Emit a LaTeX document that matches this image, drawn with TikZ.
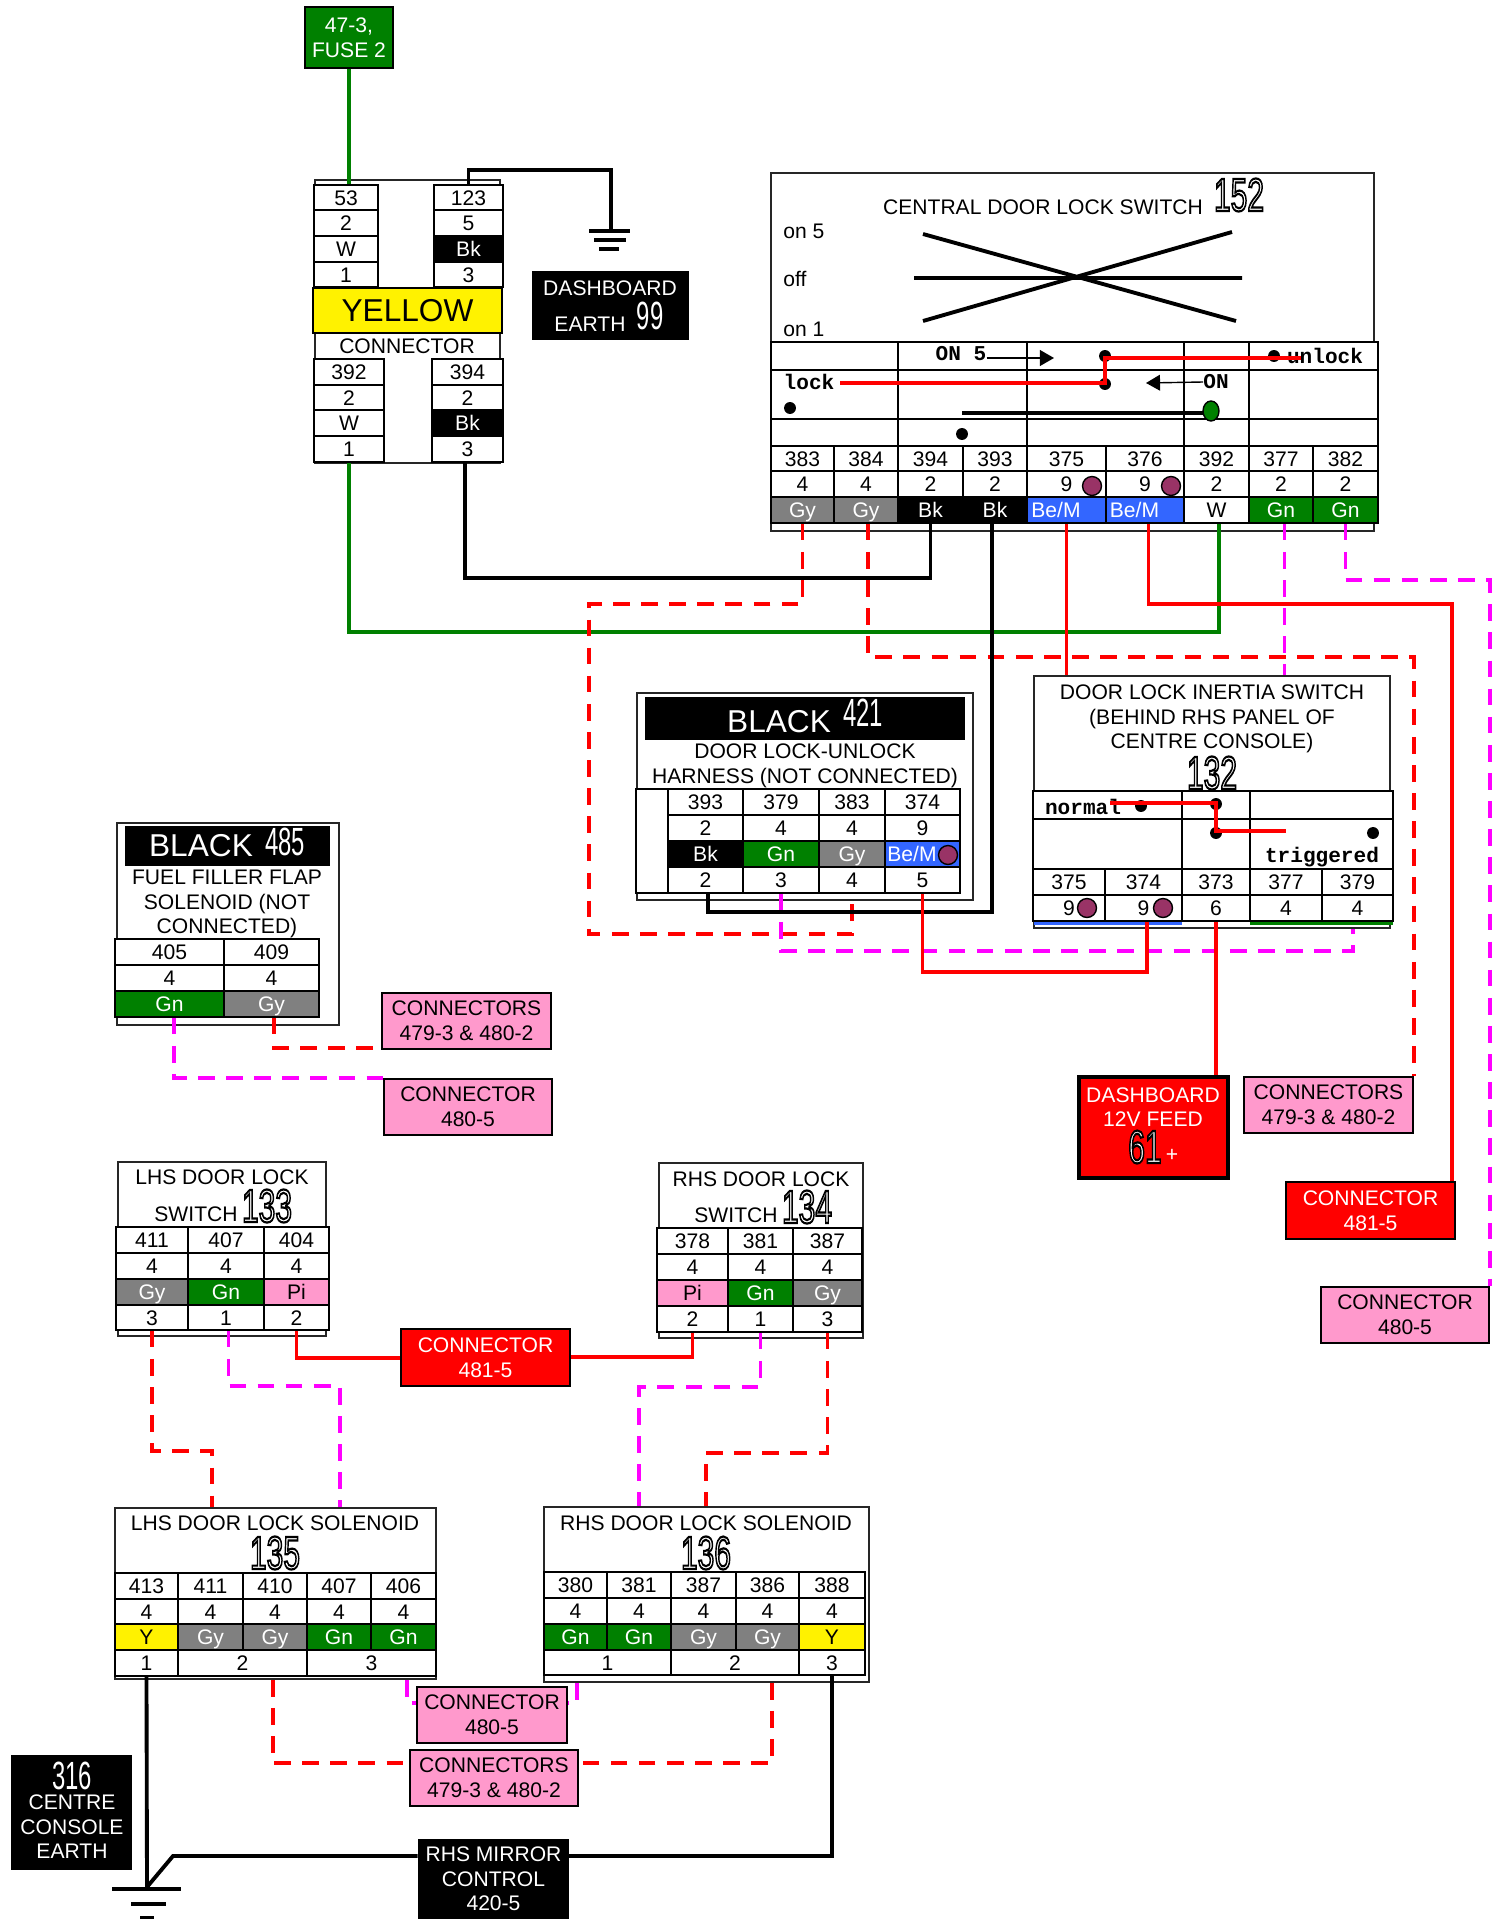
\documentclass[tikz,border=0pt]{standalone}
\usepackage{graphicx}
\usepackage{fontspec}
\usetikzlibrary{arrows.meta}
\setmainfont{Liberation Sans}
\newfontfamily\monofam{Liberation Mono}
\definecolor{wgreen}{RGB}{0,128,0}
\definecolor{wmag}{RGB}{255,0,255}
\definecolor{wpink}{RGB}{255,153,204}
\definecolor{wblue}{RGB}{51,102,255}
\definecolor{wgray}{RGB}{128,128,128}
\definecolor{wpurple}{RGB}{153,51,102}
\def\px{0.02cm}
\tikzset{
    every node/.style={font=\fontsize{12}{14}\selectfont},
    cell/.style={draw=black, line width=0.9pt, fill=white, text height=8.6pt, text depth=0pt}, % one table cell
    wh/.style={},
    gy/.style={fill=wgray, text=white},
    bk/.style={fill=black, text=white},
    gn/.style={fill=wgreen, text=white},
    pk/.style={fill=wpink},
    yl/.style={fill=yellow},
    bem/.style={fill=wblue, text=white, execute at end node={\hspace{12pt}}},
    frame/.style={draw=black!85, line width=0.9pt},
    label box/.style={draw=black, line width=1pt, align=center},
    pink box/.style={label box, fill=wpink},
    red box/.style={label box, fill=red, text=white},
    black box/.style={fill=black, text=white, align=center},
    title/.style={align=center, inner sep=0pt},
    mono/.style={font=\fontsize{12}{14}\selectfont\monofam\bfseries, inner sep=0pt},
    dot/.style={circle, fill, inner sep=2.4pt},
    seal/.style={circle, draw=black, line width=0.8pt, fill=wpurple, inner sep=0pt, minimum size=10.8pt}, % purple mark
    wire/.style={line width=2.2pt},
    dash wire/.style={wire, dash pattern=on 9.5pt off 6.5pt},
    bar/.style={line width=2.2pt}
}
% corner to corner node
\newcommand{\boxat}[7][]{\node[inner sep=0pt, #1, minimum width={(#5-#3)*\px}, minimum height={(#6-#4)*\px}] (#2) at ({(#3+#5)/2},{(#4+#6)/2}) {#7};}
\newcommand{\cellrow}[4]{\foreach \xa/\xb/\txt/\sty [count=\i] in {#4} {\boxat[cell, \sty]{#1\i}{\xa}{#2}{\xb}{#3}{\txt}}}
\newcommand{\wiretable}[6]{\foreach \xa/\xb/\wnum/\gauge/\wcol/\sty [count=\i] in {#6} {
    \boxat[cell]{#1n\i}{\xa}{#2}{\xb}{#3}{\wnum}
    \boxat[cell]{#1g\i}{\xa}{#3}{\xb}{#4}{\gauge}
    \boxat[cell, \sty]{#1c\i}{\xa}{#4}{\xb}{#5}{\wcol}}}
\newcommand{\tallnum}[1]{\scalebox{.85}[1.4]{\fontsize{16}{16}\selectfont #1}}
\newcommand{\outnum}[1]{\scalebox{.9}[1.4]{\fontsize{19}{19}\selectfont\color{white}\special{pdf:code q 2 Tr 0.9 w 0 0 0 RG}#1\special{pdf:code Q}}}

\begin{document}
\begin{tikzpicture}[x=0.02cm, y=-0.02cm]
    \useasboundingbox (0,0) rectangle (1494,1919);

    % fuse and yellow connector
    \boxat[label box, fill=wgreen, text=white]{fuse}{305}{7}{393}{68}{47-3,\\FUSE 2}
    \boxat[frame]{yframe}{315}{180}{500}{463}{}
    \wiretable{yu}{185}{210}{236}{262}{314/378/53/2/W/wh, 434/503/123/5/Bk/bk}
    \cellrow{yup}{262}{287}{314/378/1/wh, 434/503/3/wh}
    \boxat[draw=black, line width=1pt, fill=yellow, font=\fontsize{18}{20}\selectfont]{yellow}{313}{288}{502}{333}{YELLOW}
    \node[title] (yconn) at (407,346) {CONNECTOR};
    \wiretable{yd}{359}{385}{410}{436}{314/384/392/2/W/wh, 432/503/394/2/Bk/bk}
    \cellrow{ydp}{436}{462}{314/384/1/wh, 432/503/3/wh}

    % dashboard earth
    \boxat[black box]{earth}{532}{271}{689}{340}{}
    \node[title, text=white] (earthA) at (610,288) {DASHBOARD};
    \node[title, text=white] (earthB) at (590,324) {EARTH};
    \node[title, text=white] (earthN) at (650,316) {\tallnum{99}};
    \coordinate (gndA) at (611,231);
    \draw[bar] (589,231) -- (630,231) (594,240) -- (626,240) (599,249) -- (619,249);

    % central door lock switch
    \boxat[frame]{swframe}{771}{173}{1374}{531}{}
    \node[title] (swtitle) at (1043,207) {CENTRAL DOOR LOCK SWITCH};
    \node[title] (swnum) at (1239,195) {\outnum{152}};
    \node[title, anchor=west] (on5) at (783,231) {on 5};
    \node[title, anchor=west] (off) at (783,279) {off};
    \node[title, anchor=west] (on1) at (783,329) {on 1};
    \draw[line width=2.2pt] (923,234) -- (1236,321) (923,321) -- (1232,232) (914,278) -- (1242,278);
    \foreach \ya/\yb/\p in {342/370/ua, 370/419/ub, 419/446/uc} {
        \cellrow{\p}{\ya}{\yb}{771/898//wh, 898/1027//wh, 1027/1184//wh, 1184/1249//wh, 1249/1378//wh}}
    \wiretable{sw}{446}{471}{497}{523}{771/834/383/4/Gy/gy, 834/898/384/4/Gy/gy, 898/963/394/2/Bk/bk, 963/1027/393/2/Bk/bk, 1027/1106/375/9/{Be/M}/bem, 1106/1184/376/9/{Be/M}/bem, 1184/1249/392/2/W/wh, 1249/1313/377/2/Gn/gn, 1313/1378/382/2/Gn/gn}
    \node[seal] (sealA) at (1092,486) {};
    \node[seal] (sealB) at (1171,486) {};
    \node[mono] (on5b) at (961,354) {ON 5};
    \node[mono] (unlock) at (1325,356) {unlock};
    \node[mono] (lock) at (809,382) {lock};
    \node[mono] (onb) at (1216,382) {ON};
    \node[dot] (d1) at (1105,356) {};
    \node[dot] (d2) at (1274,356) {};
    \node[dot] (d3) at (1105,384) {};
    \node[dot] (d4) at (790,408) {};
    \node[dot] (d5) at (962,434) {};
    \node[dot] (d6) at (1212,408) {};
    \coordinate (on5tip) at (1054,358);
    \coordinate (ontip) at (1146,383);
    \draw[line width=0.8pt, -{Triangle[length=8pt, width=9pt]}] (on5b.east |- on5tip) -- (on5tip);
    \draw[line width=0.8pt, -{Triangle[length=8pt, width=9pt]}] (onb.west) -- (ontip);
    \coordinate (unlockend) at (1301,358);
    \coordinate (lockend) at (840,383);
    \draw[wire, red] (unlockend) -- (d1 |- unlockend) -- (d1 |- lockend) -- (lockend);
    \draw[line width=2.6pt] (d5 |- 0,413) -- (1210,413);
    \draw[fill=wgreen, line width=0.8pt] (1211,411) ellipse (8 and 10);

    % black 421 harness
    \boxat[frame]{hframe}{637}{693}{973}{900}{}
    \boxat[black box]{hhead}{645}{697}{965}{740}{}
    \node[title, text=white, font=\fontsize{18}{20}\selectfont] (hblack) at (779,722) {BLACK};
    \node[title, text=white] (hnum) at (863,713) {\tallnum{421}};
    \node[title] (htitle) at (805,766) {DOOR LOCK-UNLOCK\\HARNESS (NOT CONNECTED)};
    \boxat[cell]{hside}{636}{789}{668}{893}{}
    \wiretable{h}{789}{815}{841}{867}{668/743/393/2/Bk/bk, 743/819/379/4/Gn/gn, 819/885/383/4/Gy/gy, 885/960/374/9/{Be/M}/bem}
    \cellrow{hp}{867}{893}{668/743/2/wh, 743/819/3/wh, 819/885/4/wh, 885/960/5/wh}
    \node[seal] (sealC) at (948,855) {};

    % inertia switch
    \boxat[frame]{iframe}{1034}{676}{1390}{928}{}
    \node[title] (ititle) at (1212,719) {DOOR LOCK INERTIA SWITCH\\(BEHIND RHS PANEL OF\\CENTRE CONSOLE)};
    \node[title] (inum) at (1212,773) {\outnum{132}};
    \cellrow{iu}{791}{819}{1033/1182//wh, 1182/1250//wh, 1250/1393//wh}
    \cellrow{iv}{819}{869}{1033/1182//wh, 1182/1250//wh, 1250/1393//wh}
    \cellrow{in}{869}{895}{1033/1105/375/wh, 1105/1182/374/wh, 1182/1250/373/wh, 1250/1322/377/wh, 1322/1393/379/wh}
    \cellrow{ig}{895}{921}{1033/1105/9/wh, 1105/1182/9/wh, 1182/1250/6/wh, 1250/1322/4/wh, 1322/1393/4/wh}
    \fill[wblue] (1034,922) rectangle (1182,925);
    \fill[wgreen] (1250,922) rectangle (1393,925);
    \node[seal] (sealD) at (1087,908) {};
    \node[seal] (sealE) at (1163,908) {};
    \node[mono] (normal) at (1083,807) {normal};
    \node[mono] (trig) at (1322,857) {triggered};
    \node[dot] (e1) at (1141,806) {};
    \node[dot] (e2) at (1216,804) {};
    \node[dot] (e3) at (1216,833) {};
    \node[dot] (e4) at (1373,833) {};
    \coordinate (normalend) at (1110,803);
    \coordinate (trigend) at (1286,831);
    \draw[wire, red] (normalend) -- (e2 |- normalend) -- (e2 |- trigend) -- (trigend);

    % right hand labels
    \boxat[label box, line width=1.8pt, fill=red, text=white]{feed}{1079}{1077}{1228}{1178}{}
    \node[title, text=white] (feedt) at (1153,1107) {DASHBOARD\\12V FEED};
    \node[title] (feedn) at (1145,1147) {\outnum{61}};
    \node[title, text=white] (feedp) at (1172,1155) {+};
    \boxat[pink box]{conA}{1244}{1077}{1413}{1133}{CONNECTORS\\479-3 \& 480-2}
    \boxat[red box]{conB}{1286}{1182}{1455}{1239}{CONNECTOR\\481-5}
    \boxat[pink box]{conC}{1321}{1287}{1489}{1343}{CONNECTOR\\480-5}

    % fuel filler flap
    \boxat[frame]{fframe}{117}{823}{339}{1025}{}
    \boxat[black box]{fhead}{125}{826}{330}{866}{}
    \node[title, text=white, font=\fontsize{18}{20}\selectfont] (fblack) at (201,846) {BLACK};
    \node[title, text=white] (fnum) at (285,842) {\tallnum{485}};
    \node[title] (ftitle) at (227,904) {FUEL FILLER FLAP\\SOLENOID (NOT\\CONNECTED)};
    \wiretable{f}{939}{965}{991}{1017}{115/224/405/4/Gn/gn, 224/319/409/4/Gy/gy}
    \boxat[pink box]{conD}{382}{993}{551}{1049}{CONNECTORS\\479-3 \& 480-2}
    \boxat[pink box]{conE}{384}{1079}{552}{1135}{CONNECTOR\\480-5}

    % door lock switches
    \boxat[frame]{lsframe}{118}{1162}{326}{1336}{}
    \node[title] (lstitle) at (222,1177) {LHS DOOR LOCK};
    \node[title] (lssw) at (196,1214) {SWITCH};
    \node[title] (lsnum) at (267,1206) {\outnum{133}};
    \wiretable{ls}{1227}{1253}{1279}{1305}{116/188/411/4/Gy/gy, 188/264/407/4/Gn/gn, 264/329/404/4/Pi/pk}
    \cellrow{lsp}{1305}{1330}{116/188/3/wh, 188/264/1/wh, 264/329/2/wh}
    \boxat[frame]{rsframe}{659}{1163}{863}{1338}{}
    \node[title] (rstitle) at (761,1179) {RHS DOOR LOCK};
    \node[title] (rssw) at (736,1215) {SWITCH};
    \node[title] (rsnum) at (807,1207) {\outnum{134}};
    \wiretable{rs}{1228}{1254}{1280}{1306}{657/728/378/4/Pi/pk, 728/793/381/4/Gn/gn, 793/862/387/4/Gy/gy}
    \cellrow{rsp}{1306}{1332}{657/728/2/wh, 728/793/1/wh, 793/862/3/wh}
    \boxat[red box]{conF}{401}{1329}{570}{1386}{CONNECTOR\\481-5}

    % solenoids
    \boxat[frame]{lsol}{115}{1508}{436}{1679}{}
    \node[title] (lsoltitle) at (275,1523) {LHS DOOR LOCK SOLENOID};
    \node[title] (lsolnum) at (275,1553) {\outnum{135}};
    \wiretable{ln}{1573}{1599}{1624}{1650}{115/178/413/4/Y/yl, 178/243/411/4/Gy/gy, 243/307/410/4/Gy/gy, 307/371/407/4/Gn/gn, 371/436/406/4/Gn/gn}
    \cellrow{lnp}{1650}{1676}{115/178/1/wh, 178/307/2/wh, 307/436/3/wh}
    \boxat[frame]{rsol}{544}{1507}{869}{1682}{}
    \node[title] (rsoltitle) at (706,1523) {RHS DOOR LOCK SOLENOID};
    \node[title] (rsolnum) at (706,1553) {\outnum{136}};
    \wiretable{rn}{1572}{1598}{1624}{1650}{544/607/380/4/Gn/gn, 607/671/381/4/Gn/gn, 671/736/387/4/Gy/gy, 736/799/386/4/Gy/gy, 799/865/388/4/Y/yl}
    \cellrow{rnp}{1650}{1675}{544/671/1/wh, 671/799/2/wh, 799/865/3/wh}
    \boxat[pink box]{conG}{417}{1687}{567}{1743}{CONNECTOR\\480-5}
    \boxat[pink box]{conH}{410}{1750}{578}{1806}{CONNECTORS\\479-3 \& 480-2}
    \boxat[black box]{mirror}{418}{1839}{569}{1919}{RHS MIRROR\\CONTROL\\420-5}
    \boxat[black box]{cearth}{11}{1755}{132}{1870}{}
    \node[title, text=white] (cearthN) at (72,1776) {\tallnum{316}};
    \node[title, text=white] (cearthT) at (72,1827) {CENTRE\\CONSOLE\\EARTH};
    \coordinate (gndB) at (147,1887);
    \draw[bar] (112,1889) -- (181,1889) (131,1904) -- (166,1904) (140,1918) -- (154,1918);

    % wires
    \draw[wire, wgreen] (fuse.south) -- (fuse.south |- yun1.north);
    \draw[wire] (yun2.north) |- (gndA |- 0,170) -- (gndA);
    \draw[wire, wgreen] (ydp1.south) |- ([xshift=0.05cm]swc7.south |- 0,632) -- ([xshift=0.05cm]swc7.south);
    \draw[wire] ([xshift=-0.05cm]ydp2.south) |- (swc3.south |- 0,578) -- (swc3.south);
    \draw[dash wire, red] (swc1.south) |- (589,604) -- (589,934) -| (hp3.south);
    \draw[dash wire, red] ([xshift=0.04cm]swc2.south) |- (conA.north east |- 0,657) -- (conA.north east);
    \draw[wire] ([xshift=-0.06cm]swc4.south) |- ([xshift=0.05cm]hp1.south |- 0,912) -- ([xshift=0.05cm]hp1.south);
    \draw[wire, red] (swc5.south) -- (swc5.south |- iframe.north);
    \draw[wire, red] ([xshift=0.07cm]swc6.south) |- (1452,604) -- (1452,604 |- conB.north);
    \draw[dash wire, wmag] ([xshift=0.07cm]swc8.south) -- ([xshift=0.07cm]swc8.south |- iframe.north);
    \draw[dash wire, wmag] (swc9.south) |- (conC.north east |- 0,580) -- (conC.north east);
    \draw[dash wire, wmag] (hp2.south) |- (1353,951) -- (1353,951 |- iframe.south);
    \draw[wire, red] (hp4.south) |- (1147,972) -- (1147,972 |- ig2.south);
    \draw[wire, red] (ig3.south) -- (ig3.south |- feed.north);
    \draw[dash wire, wmag] (fc1.south -| 174,0) |- (conE.north west);
    \draw[dash wire, red] ([xshift=0.05cm]fc2.south) |- (conD.west |- 0,1048);
    \draw[wire, red] (lsp3.south) |- (conF.west |- 0,1358);
    \draw[wire, red] (conF.east |- 0,1357) -| (rsp1.south);
    \draw[dash wire, red] (lsp1.south) |- (212,1451) -- (212,1451 |- lsol.north);
    \draw[dash wire, wmag] ([xshift=0.05cm]lsp2.south) |- (340,1386) -- (340,1386 |- lsol.north);
    \draw[dash wire, wmag] (rsp2.south) |- (639,1387) -- (639,1387 |- rsol.north);
    \draw[dash wire, red] (rsp3.south) |- (706,1453) -- (706,1453 |- rsol.north);
    \draw[dash wire, wmag] (lsol.south -| 407,0) |- (conG.west |- 0,1703);
    \draw[dash wire, wmag] (rsol.south -| 577,0) |- (conG.east |- 0,1703);
    \draw[dash wire, red] (lsol.south -| 273,0) |- (conH.west |- 0,1763);
    \draw[dash wire, red] (rsol.south -| 772,0) |- (conH.east |- 0,1763);
    \draw[wire] (lnp1.south) -- (gndB);
    \draw[wire] (gndB) -- (173,1856) -- (mirror.west |- 0,1856);
    \draw[wire] (mirror.east |- 0,1856) -| (rnp3.south);
\end{tikzpicture}
\end{document}
